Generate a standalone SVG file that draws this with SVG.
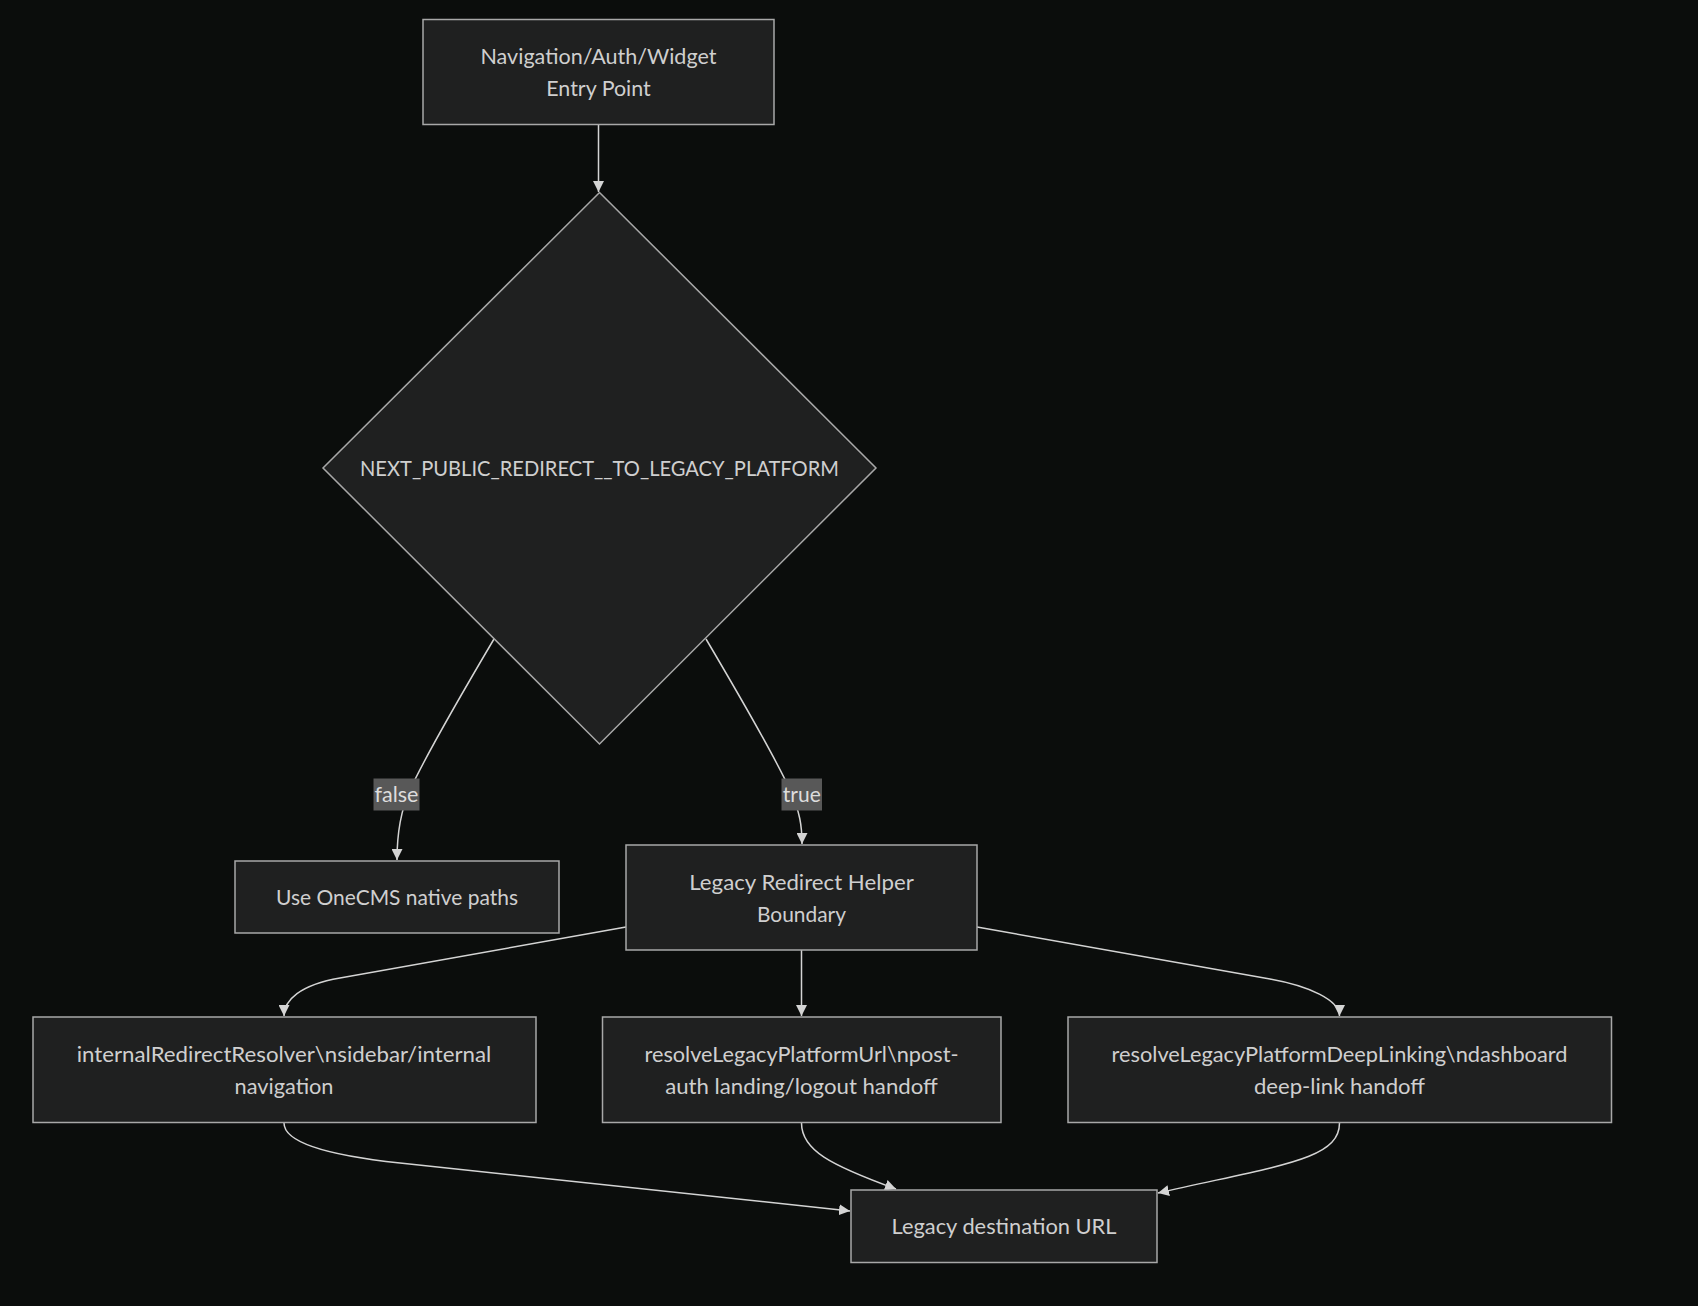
<svg xmlns="http://www.w3.org/2000/svg" width="1698" height="1306" viewBox="0 0 1698 1306">
<defs>
<style>
.node rect, .node polygon { fill: #1f2020; stroke: #a8a8a8; stroke-width: 1.5; }
.node text { fill: #cfcfcf; font-family: "Lato", "Liberation Sans", sans-serif; font-size: 21px; text-anchor: middle; }
.edges path { fill: none; stroke: #d4d4d4; stroke-width: 1.5; }
.elabel rect { fill: #585858; }
.elabel text { fill: #dddddd; font-family: "Lato", "Liberation Sans", sans-serif; font-size: 21px; text-anchor: middle; }
</style>
<marker id="arrow" viewBox="0 0 10 10" refX="10" refY="5" markerWidth="11" markerHeight="11" markerUnits="userSpaceOnUse" orient="auto">
<path d="M0,0 L10,5 L0,10 z" fill="#d4d4d4"/>
</marker>
</defs>
<rect x="0" y="0" width="1698" height="1306" fill="#0b0d0c"/>

<g id="connectors" class="edges">
<path d="M598.5,125 L598.5,192" marker-end="url(#arrow)"/>
<path d="M494,639 C455,705 425,757 410,790 C400,812 397,835 397,860" marker-end="url(#arrow)"/>
<path d="M706,639 C745,705 775,757 790,790 C800,812 802,826 802,844" marker-end="url(#arrow)"/>
<path d="M626,927 L340,978 C300,985 284,1000 284,1016" marker-end="url(#arrow)"/>
<path d="M977,927 L1270,979 C1309,986 1339.5,1000 1339.5,1016" marker-end="url(#arrow)"/>
<path d="M801.5,950 L801.5,1016" marker-end="url(#arrow)"/>
<path d="M284,1123 C284,1145 340,1156.6 400,1163 L850,1211" marker-end="url(#arrow)"/>
<path d="M801.5,1123 C801.5,1150 830,1165 896,1189" marker-end="url(#arrow)"/>
<path d="M1339.5,1123 C1339.5,1160 1280,1165 1158,1193" marker-end="url(#arrow)"/>
</g>

<g id="label-false" class="elabel">
<rect x="373.5" y="778.5" width="46" height="32"/>
<text x="396.5" y="802" textLength="44" lengthAdjust="spacingAndGlyphs">false</text>
</g>
<g id="label-true" class="elabel">
<rect x="781.5" y="778.5" width="40.5" height="32"/>
<text x="801.8" y="802" textLength="38" lengthAdjust="spacingAndGlyphs">true</text>
</g>

<g id="node-entry" class="node">
<rect x="423" y="19.5" width="351" height="105"/>
<text x="598.5" y="64" textLength="236" lengthAdjust="spacingAndGlyphs">Navigation/Auth/Widget</text>
<text x="598.5" y="96" textLength="104.5" lengthAdjust="spacingAndGlyphs">Entry Point</text>
</g>

<g id="node-decision" class="node">
<polygon points="599.5,192.5 876,468 599.5,744 323,468"/>
<text x="599.5" y="475.5" textLength="479" lengthAdjust="spacingAndGlyphs">NEXT_PUBLIC_REDIRECT__TO_LEGACY_PLATFORM</text>
</g>

<g id="node-native" class="node">
<rect x="235" y="861" width="324" height="72"/>
<text x="397" y="905" textLength="242" lengthAdjust="spacingAndGlyphs">Use OneCMS native paths</text>
</g>

<g id="node-helper" class="node">
<rect x="626" y="845" width="351" height="105"/>
<text x="801.5" y="890" textLength="224.5" lengthAdjust="spacingAndGlyphs">Legacy Redirect Helper</text>
<text x="801.5" y="921.5" textLength="89" lengthAdjust="spacingAndGlyphs">Boundary</text>
</g>

<g id="node-internal" class="node">
<rect x="33" y="1017" width="503" height="105.5"/>
<text x="284" y="1062" textLength="414.5" lengthAdjust="spacingAndGlyphs">internalRedirectResolver\nsidebar/internal</text>
<text x="284" y="1094" textLength="99" lengthAdjust="spacingAndGlyphs">navigation</text>
</g>

<g id="node-url" class="node">
<rect x="602.5" y="1017" width="398.5" height="105.5"/>
<text x="801.5" y="1062" textLength="314" lengthAdjust="spacingAndGlyphs">resolveLegacyPlatformUrl\npost-</text>
<text x="801.5" y="1094" textLength="272.5" lengthAdjust="spacingAndGlyphs">auth landing/logout handoff</text>
</g>

<g id="node-deeplink" class="node">
<rect x="1068" y="1017" width="543.5" height="105.5"/>
<text x="1339.5" y="1062" textLength="456" lengthAdjust="spacingAndGlyphs">resolveLegacyPlatformDeepLinking\ndashboard</text>
<text x="1339.5" y="1094" textLength="171" lengthAdjust="spacingAndGlyphs">deep-link handoff</text>
</g>

<g id="node-dest" class="node">
<rect x="851" y="1190" width="306" height="72.5"/>
<text x="1004" y="1233.5" textLength="225" lengthAdjust="spacingAndGlyphs">Legacy destination URL</text>
</g>
</svg>
